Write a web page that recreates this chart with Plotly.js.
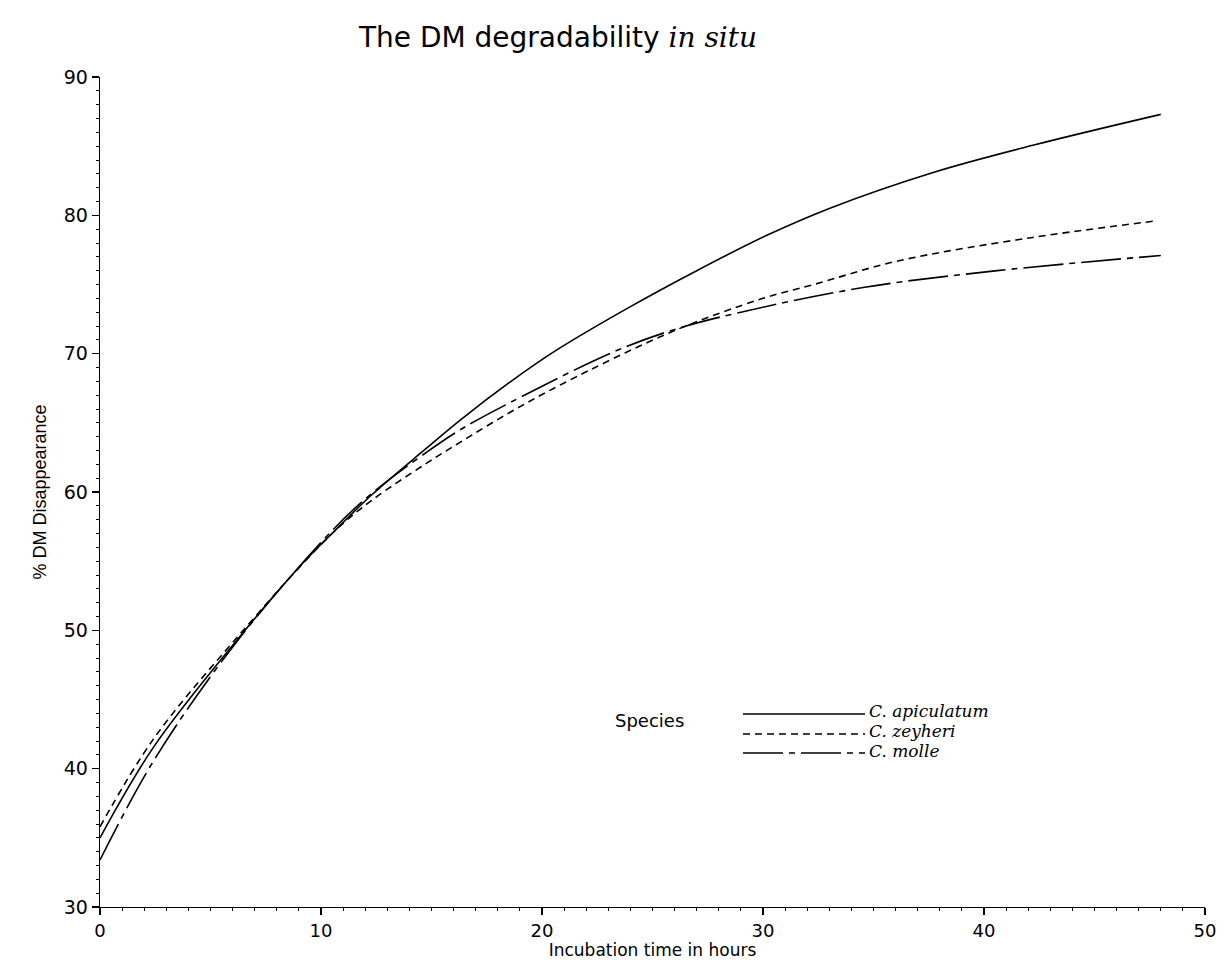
<!DOCTYPE html>
<html>
<head>
<meta charset="utf-8">
<script src="https://cdn.plot.ly/plotly-3.0.1.min.js"></script>
<style>html,body{margin:0;padding:0;background:#fff;}</style>
</head>
<body>
<div id="chart" style="width:1228px;height:960px;"></div>
<script>
// Species names
const speciesNames = ["C. apiculatum", "C. zeyheri", "C. molle"];

// Incubation time (hours) and % DM disappearance
const apiculatumHours = [0, 2.4, 6.1, 9.2, 10.5, 12.3, 14.8, 16.3, 18.6, 20.6, 24.0, 27.0, 30.1, 33.0, 37.7, 42.3, 48.0];
const apiculatumDM    = [35.0, 41.5, 49.1, 54.9, 57.0, 59.8, 63.2, 65.2, 68.0, 70.2, 73.4, 76.0, 78.5, 80.5, 83.1, 85.1, 87.3];

const zeyheriHours = [0, 2.4, 6.1, 10.5, 12.3, 14.8, 16.3, 18.6, 20.9, 25.9, 30.0, 32.3, 36.1, 42.2, 47.8];
const zeyheriDM    = [35.8, 42.1, 49.3, 57.0, 59.4, 62.1, 63.6, 65.8, 67.8, 71.6, 74.0, 75.0, 76.7, 78.4, 79.6];

const molleHours = [0, 2.4, 6.1, 10.5, 12.3, 14.8, 16.3, 18.6, 23.2, 25.9, 29.0, 34.6, 40.6, 48.0];
const molleDM    = [33.4, 40.5, 49.0, 57.2, 59.9, 62.9, 64.5, 66.5, 70.1, 71.7, 73.0, 74.8, 76.0, 77.1];

const xTickVals = [0, 10, 20, 30, 40, 50];
const yTickVals = [30, 40, 50, 60, 70, 80, 90];

const dashStyles = ["solid", "7px,5px", "40px,6px,6px,6px"];

const traces = [
  {x: apiculatumHours, y: apiculatumDM},
  {x: zeyheriHours, y: zeyheriDM},
  {x: molleHours, y: molleDM}
].map((d, i) => ({
  x: d.x, y: d.y, type: "scatter", mode: "lines", name: speciesNames[i],
  line: {color: "#000", width: 1.6, dash: dashStyles[i], shape: "spline", smoothing: 1},
  showlegend: false, hoverinfo: "x+y+name"
}));

// custom legend placement (paper coordinates)
const px = v => (v - 100) / 1105;
const py = v => (907 - v) / 830;
const legendY = [714, 734, 753];
const labelY = [711, 731, 751];

const shapes = legendY.map((yy, i) => ({
  type: "line", xref: "paper", yref: "paper",
  x0: px(743), x1: px(865), y0: py(yy), y1: py(yy),
  line: {color: "#000", width: 1.6, dash: dashStyles[i]}
}));

const annotations = [
  {xref: "paper", yref: "paper", x: px(613), y: py(720), xanchor: "left", yanchor: "middle",
   text: "Species", showarrow: false, font: {family: "DejaVu Sans", size: 18, color: "#000"}}
].concat(speciesNames.map((n, i) => ({
  xref: "paper", yref: "paper", x: px(867), y: py(labelY[i]), xanchor: "left", yanchor: "middle",
  text: "<i>" + n + "</i>", showarrow: false,
  font: {family: "DejaVu Serif", size: 17, color: "#000"}
})));

const layout = {
  width: 1228, height: 960,
  paper_bgcolor: "#fff", plot_bgcolor: "#fff",
  margin: {l: 100, r: 23, t: 77, b: 53},
  title: {
    text: "The DM degradability <span style=\"font-family:'DejaVu Serif'\"><i>in situ</i></span>",
    xref: "container", yref: "container", x: 558 / 1228, y: 1 - 37 / 960,
    xanchor: "center", yanchor: "middle",
    font: {family: "DejaVu Sans", size: 28, color: "#000"}
  },
  xaxis: {
    range: [0, 50], tickvals: xTickVals, ticktext: xTickVals.map(String),
    showline: true, linecolor: "#000", linewidth: 1.3, mirror: false,
    showgrid: false, zeroline: false,
    ticks: "outside", ticklen: 7, tickwidth: 1.2, tickcolor: "#000",
    minor: {dtick: 1, ticks: "outside", ticklen: 3, tickwidth: 1, tickcolor: "#000", showgrid: false},
    tickfont: {family: "DejaVu Sans", size: 18, color: "#000"},
    title: {text: "Incubation time in hours", font: {family: "DejaVu Sans", size: 17, color: "#000"}, standoff: 6}
  },
  yaxis: {
    range: [30, 90], tickvals: yTickVals, ticktext: yTickVals.map(String),
    showline: true, linecolor: "#000", linewidth: 1.3, mirror: false,
    showgrid: false, zeroline: false,
    ticks: "outside", ticklen: 7, tickwidth: 1.2, tickcolor: "#000",
    minor: {dtick: 1, ticks: "outside", ticklen: 3, tickwidth: 1, tickcolor: "#000", showgrid: false},
    tickfont: {family: "DejaVu Sans", size: 19, color: "#000"},
    title: {text: "% DM Disappearance", font: {family: "Liberation Sans Narrow, Liberation Sans, Arial", size: 18, color: "#000"}, standoff: 12}
  },
  shapes: shapes,
  annotations: annotations,
  showlegend: false
};

Plotly.newPlot("chart", traces, layout, {displayModeBar: false, staticPlot: true});
</script>
</body>
</html>
